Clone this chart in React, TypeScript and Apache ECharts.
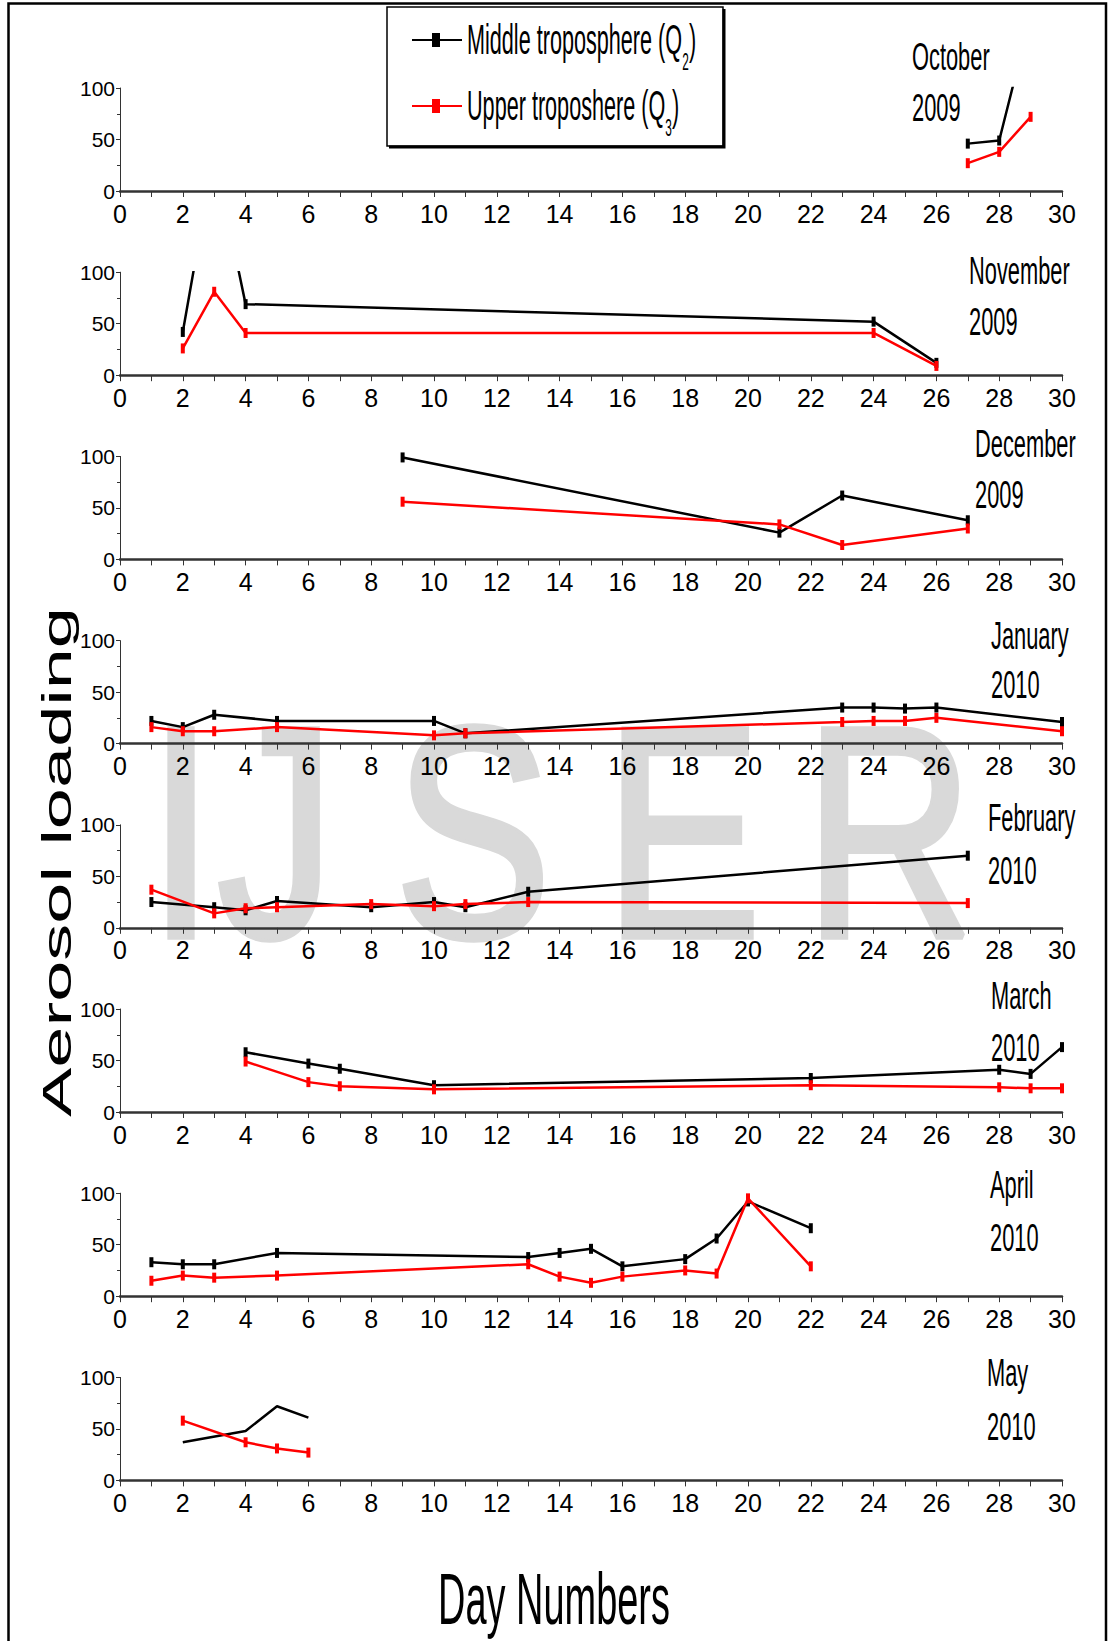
import React, { useEffect, useRef } from "react";
import * as echarts from "echarts";

// ---------- data ----------
const dayTicks = [0, 2, 4, 6, 8, 10, 12, 14, 16, 18, 20, 22, 24, 26, 28, 30];
const loadTicks = [0, 50, 100];

const monthNames = ["October", "November", "December", "January", "February", "March", "April", "May"];
const monthYears = ["2009", "2009", "2009", "2010", "2010", "2010", "2010", "2010"];

const seriesNames = ["Middle troposphere (Q2)", "Upper troposhere (Q3)"];

const octMidDays = [27, 28, 29];
const octMid = [46, 49, 170];
const octUpDays = [27, 28, 29];
const octUp = [27, 38, 72];

const novMidDays = [2, 3, 4, 24, 26];
const novMid = [42, 215, 69, 52, 12];
const novUpDays = [2, 3, 4, 24, 26];
const novUp = [26, 81, 41, 41, 9];

const decMidDays = [9, 21, 23, 27];
const decMid = [99, 26, 62, 38];
const decUpDays = [9, 21, 23, 27];
const decUp = [56, 34, 14, 30];

const janMidDays = [1, 2, 3, 5, 10, 11, 23, 24, 25, 26, 30];
const janMid = [22, 16, 28, 22, 22, 10, 35, 35, 34, 35, 21];
const janUpDays = [1, 2, 3, 5, 10, 11, 23, 24, 25, 26, 30];
const janUp = [16, 12, 12, 16, 8, 10, 21, 22, 22, 25, 12];

const febMidDays = [1, 3, 4, 5, 8, 10, 11, 13, 27];
const febMid = [25, 20, 17, 26, 20, 25, 20, 35, 70];
const febUpDays = [1, 3, 4, 5, 8, 10, 11, 13, 27];
const febUp = [37, 14, 19, 20, 23, 21, 23, 25, 24];

const marMidDays = [4, 6, 7, 10, 22, 28, 29, 30];
const marMid = [58, 47, 42, 26, 33, 41, 37, 63];
const marUpDays = [4, 6, 7, 10, 22, 28, 29, 30];
const marUp = [49, 29, 25, 22, 26, 24, 23, 23];

const aprMidDays = [1, 2, 3, 5, 13, 14, 15, 16, 18, 19, 20, 22];
const aprMid = [33, 31, 31, 42, 38, 42, 46, 29, 36, 56, 92, 66];
const aprUpDays = [1, 2, 3, 5, 13, 14, 15, 16, 18, 19, 20, 22];
const aprUp = [15, 20, 18, 20, 31, 19, 13, 19, 25, 22, 95, 29];

const mayMidDays = [2, 4, 5, 6];
const mayMid = [37, 48, 72, 61];
const mayUpDays = [2, 4, 5, 6];
const mayUp = [58, 37, 31, 27];

const panels = [
  { midDays: octMidDays, mid: octMid, upDays: octUpDays, up: octUp, midMarks: true },
  { midDays: novMidDays, mid: novMid, upDays: novUpDays, up: novUp, midMarks: true },
  { midDays: decMidDays, mid: decMid, upDays: decUpDays, up: decUp, midMarks: true },
  { midDays: janMidDays, mid: janMid, upDays: janUpDays, up: janUp, midMarks: true },
  { midDays: febMidDays, mid: febMid, upDays: febUpDays, up: febUp, midMarks: true },
  { midDays: marMidDays, mid: marMid, upDays: marUpDays, up: marUp, midMarks: true },
  { midDays: aprMidDays, mid: aprMid, upDays: aprUpDays, up: aprUp, midMarks: true },
  { midDays: mayMidDays, mid: mayMid, upDays: mayUpDays, up: mayUp, midMarks: false },
];

// ---------- layout ----------
const SANS = "'Liberation Sans', Arial, sans-serif";
const NARROW = "'Liberation Sans Narrow', 'Arial Narrow', 'Liberation Sans', sans-serif";
const GRID_LEFT = 120;
const GRID_WIDTH = 942;
const GRID_TOP0 = 88;
const GRID_STEP = 184.2;
const GRID_HEIGHT = 103;

const monthLabelLayout = [
  { x: 912, y1: 56.5, y2: 107.5 },
  { x: 969, y1: 270, y2: 321 },
  { x: 975, y1: 443, y2: 494 },
  { x: 991, y1: 635, y2: 684 },
  { x: 988, y1: 817.5, y2: 870 },
  { x: 991, y1: 995, y2: 1047 },
  { x: 990, y1: 1184, y2: 1237 },
  { x: 987, y1: 1372, y2: 1426 },
];

const watermarkLetters = ["I", "J", "S", "E", "R"];
const watermarkX = [181, 276, 473, 683, 889];

function buildOption() {
  const grid = panels.map((_, i) => ({
    left: GRID_LEFT,
    top: GRID_TOP0 + i * GRID_STEP,
    width: GRID_WIDTH,
    height: GRID_HEIGHT,
  }));

  const xAxis = panels.map((_, i) => ({
    type: "value",
    gridIndex: i,
    min: dayTicks[0],
    max: dayTicks[dayTicks.length - 1],
    interval: dayTicks[1] - dayTicks[0],
    axisLine: { show: true, onZero: false, lineStyle: { color: "#333", width: 2.5 } },
    axisTick: { show: true, length: 6, lineStyle: { color: "#333", width: 1 } },
    minorTick: { show: true, splitNumber: 2, length: 6, lineStyle: { color: "#333", width: 1 } },
    splitLine: { show: false },
    minorSplitLine: { show: false },
    axisLabel: { fontFamily: NARROW, fontSize: 25, color: "#000", margin: 10 },
  }));

  const yAxis = panels.map((_, i) => ({
    type: "value",
    gridIndex: i,
    min: loadTicks[0],
    max: loadTicks[loadTicks.length - 1],
    interval: loadTicks[1] - loadTicks[0],
    axisLine: { show: true, lineStyle: { color: "#333", width: 1 } },
    axisTick: { show: true, length: 4, lineStyle: { color: "#333", width: 1 } },
    minorTick: { show: true, splitNumber: 2, length: 3, lineStyle: { color: "#333", width: 1 } },
    splitLine: { show: false },
    minorSplitLine: { show: false },
    axisLabel: { fontFamily: NARROW, fontSize: 21, color: "#000", margin: 5 },
  }));

  const series: any[] = [];
  panels.forEach((p, i) => {
    series.push({
      name: seriesNames[0],
      type: "line",
      xAxisIndex: i,
      yAxisIndex: i,
      data: p.midDays.map((d, j) => [d, p.mid[j]]),
      symbol: p.midMarks ? "rect" : "none",
      symbolSize: [4, 10],
      showAllSymbol: true,
      clip: true,
      lineStyle: { color: "#000", width: 2.5 },
      itemStyle: { color: "#000" },
      z: 3,
    });
    series.push({
      name: seriesNames[1],
      type: "line",
      xAxisIndex: i,
      yAxisIndex: i,
      data: p.upDays.map((d, j) => [d, p.up[j]]),
      symbol: "rect",
      symbolSize: [4, 10],
      showAllSymbol: true,
      clip: true,
      lineStyle: { color: "#ff0000", width: 2.5 },
      itemStyle: { color: "#ff0000" },
      z: 4,
    });
  });

  const graphic: any[] = [];

  // watermark
  watermarkLetters.forEach((ch, i) => {
    graphic.push({
      type: "text",
      x: watermarkX[i],
      y: 832,
      scaleX: 0.78,
      z: -10,
      silent: true,
      style: {
        text: ch,
        fontFamily: SANS,
        fontSize: 300,
        fill: "#d9d9d9",
        stroke: "#d9d9d9",
        lineWidth: 7,
        align: "center",
        verticalAlign: "middle",
      },
    });
  });

  // outer frame
  graphic.push({
    type: "polyline",
    shape: { points: [[8.5, 1700], [8.5, 3.5], [1106, 3.5], [1106, 1700]] },
    style: { stroke: "#000", lineWidth: 2.5, fill: "none" },
    z: 10,
  });

  // legend box
  graphic.push({
    type: "rect",
    shape: { x: 387, y: 7, width: 336, height: 139 },
    style: { fill: "#fff", stroke: "#000", lineWidth: 1.5 },
    z: 10,
  });
  graphic.push({
    type: "polyline",
    shape: { points: [[389, 147], [724, 147], [724, 9]] },
    style: { stroke: "#000", lineWidth: 3, fill: "none" },
    z: 10,
  });
  const legendRows = [
    { y: 40, color: "#000", main: "Middle troposphere (Q", sub: "2", mainW: 418 },
    { y: 106, color: "#ff0000", main: "Upper troposhere (Q", sub: "3", mainW: 385 },
  ];
  legendRows.forEach((r) => {
    graphic.push({
      type: "line",
      shape: { x1: 412, y1: r.y, x2: 462, y2: r.y },
      style: { stroke: r.color, lineWidth: 2.2 },
      z: 11,
    });
    graphic.push({
      type: "rect",
      shape: { x: 432, y: r.y - 7, width: 8, height: 14 },
      style: { fill: r.color },
      z: 11,
    });
    graphic.push({
      type: "group",
      x: 467,
      y: 0,
      scaleX: 0.515,
      z: 11,
      children: [
        {
          type: "text",
          x: 0,
          y: r.y,
          style: { text: r.main, fontFamily: SANS, fontSize: 42, fill: "#000", align: "left", verticalAlign: "middle" },
          z: 11,
        },
        {
          type: "text",
          x: r.mainW,
          y: r.y + 22,
          style: { text: r.sub, fontFamily: SANS, fontSize: 23, fill: "#000", align: "left", verticalAlign: "middle" },
          z: 11,
        },
        {
          type: "text",
          x: r.mainW + 13,
          y: r.y,
          style: { text: ")", fontFamily: SANS, fontSize: 42, fill: "#000", align: "left", verticalAlign: "middle" },
          z: 11,
        },
      ],
    });
  });

  // month labels
  monthNames.forEach((m, i) => {
    const L = monthLabelLayout[i];
    graphic.push({
      type: "text",
      x: L.x,
      y: L.y1,
      scaleX: 0.56,
      z: 12,
      style: { text: m, fontFamily: SANS, fontSize: 39, fill: "#000", align: "left", verticalAlign: "middle" },
    });
    graphic.push({
      type: "text",
      x: L.x,
      y: L.y2,
      scaleX: 0.56,
      z: 12,
      style: { text: monthYears[i], fontFamily: SANS, fontSize: 39, fill: "#000", align: "left", verticalAlign: "middle" },
    });
  });

  // axis titles
  graphic.push({
    type: "text",
    x: 554,
    y: 1599,
    scaleX: 0.527,
    z: 12,
    style: { text: "Day Numbers", fontFamily: SANS, fontSize: 72, fill: "#000", align: "center", verticalAlign: "middle" },
  });
  graphic.push({
    type: "text",
    x: 57,
    y: 862,
    rotation: Math.PI / 2,
    scaleY: 0.55,
    z: 12,
    style: { text: "Aerosol loading", fontFamily: SANS, fontSize: 74, fill: "#000", align: "center", verticalAlign: "middle" },
  });

  return {
    animation: false,
    backgroundColor: "#fff",
    grid,
    xAxis,
    yAxis,
    series,
    graphic,
  };
}

export default function App() {
  const ref = useRef<HTMLDivElement>(null);
  useEffect(() => {
    document.body.style.margin = "0";
    const chart = echarts.init(ref.current as HTMLDivElement, null, { renderer: "svg", width: 1109, height: 1641 });
    chart.setOption(buildOption() as any);
    return () => chart.dispose();
  }, []);
  return <div ref={ref} style={{ width: 1109, height: 1641 }} />;
}
